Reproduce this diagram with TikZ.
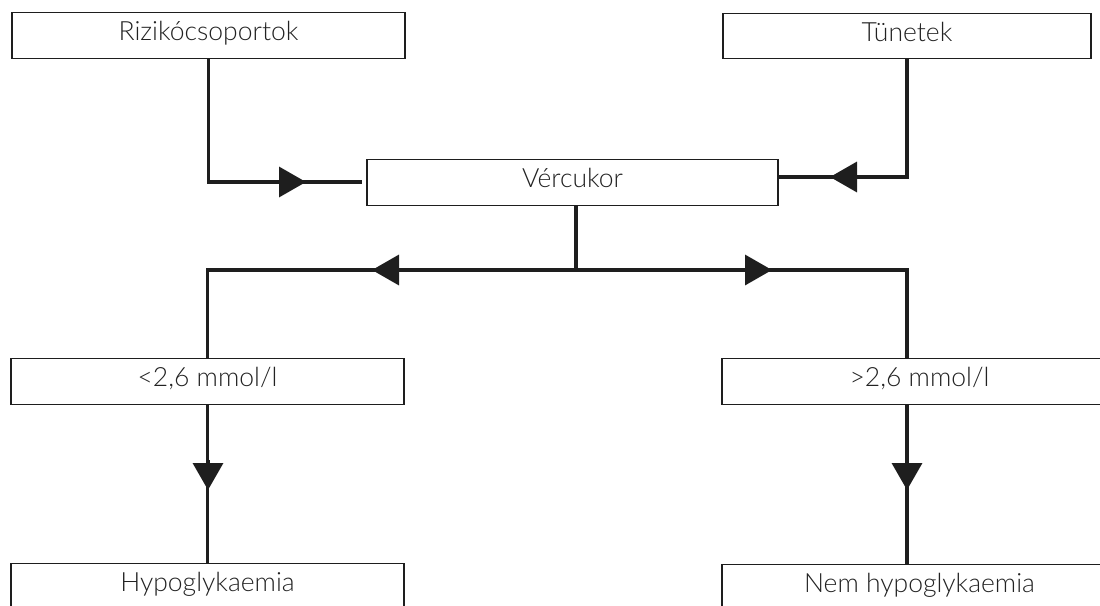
\documentclass[tikz,border=0pt]{standalone}
\usepackage{fontspec}
\setmainfont{Lato}[UprightFont=* Light]
\usetikzlibrary{arrows.meta}
\definecolor{ink}{HTML}{1E1E1E}
\definecolor{txt}{HTML}{222222}
\tikzset{
  box/.style={draw=ink, line width=1.3pt, rectangle, inner sep=0pt, text height=28pt, text depth=17.5pt, text=txt, font=\fontsize{26.5}{30}\selectfont, anchor=center},
  conn/.style={draw=ink, line width=3.5pt},
  tri/.style={-{Triangle[length=27pt,width=30pt]}},
}
\begin{document}
\begin{tikzpicture}[x=1pt,y=-1pt]
\useasboundingbox (0,0) rectangle (1100,605);
\node[box, minimum width=393pt] (rb) at (208.5,35.5) {Rizikócsoportok};
\node[box, minimum width=368pt] (tu) at (907,36) {Tünetek};
\node[box, minimum width=411pt] (vc) at (572.5,182.5) {Vércukor};
\node[box, minimum width=393pt] (lo) at (207.5,381.5) {<2,6 mmol/l};
\node[box, minimum width=395pt] (hi) at (919.5,381.5) {>2,6 mmol/l};
\node[box, minimum width=393pt] (hy) at (207.5,586) {Hypoglykaemia};
\node[box, minimum width=395pt] (nh) at (919.5,587) {Nem hypoglykaemia};
% arrow tips and junctions
\coordinate (a1) at (306,182);
\coordinate (a2) at (830,177);
\coordinate (j) at (576,270);
\coordinate (a3) at (372,270);
\coordinate (a4) at (772,270);
\coordinate (r) at (907,270);
\coordinate (a5) at (208,490);
\coordinate (a6) at (907,490);
% connectors
\draw[conn] (rb.south) |- ([xshift=-4pt]vc.west |- a1);
\draw[conn,tri] ([xshift=-30pt]a1) -- (a1);
\draw[conn] (tu.south) |- (vc.east |- a2);
\draw[conn,tri] ([xshift=30pt]a2) -- (a2);
\draw[conn] (vc.south -| j) -- (j);
\draw[conn] (lo.north) |- (j) -| (r |- hi.north);
\draw[conn,tri] ([xshift=30pt]a3) -- (a3);
\draw[conn,tri] ([xshift=-30pt]a4) -- (a4);
\draw[conn] (lo.south) -- (hy.north);
\draw[conn,tri] ([yshift=30pt]a5) -- (a5);
\draw[conn] (hi.south -| r) -- (r |- nh.north);
\draw[conn,tri] ([yshift=30pt]a6) -- (a6);
\end{tikzpicture}
\end{document}
